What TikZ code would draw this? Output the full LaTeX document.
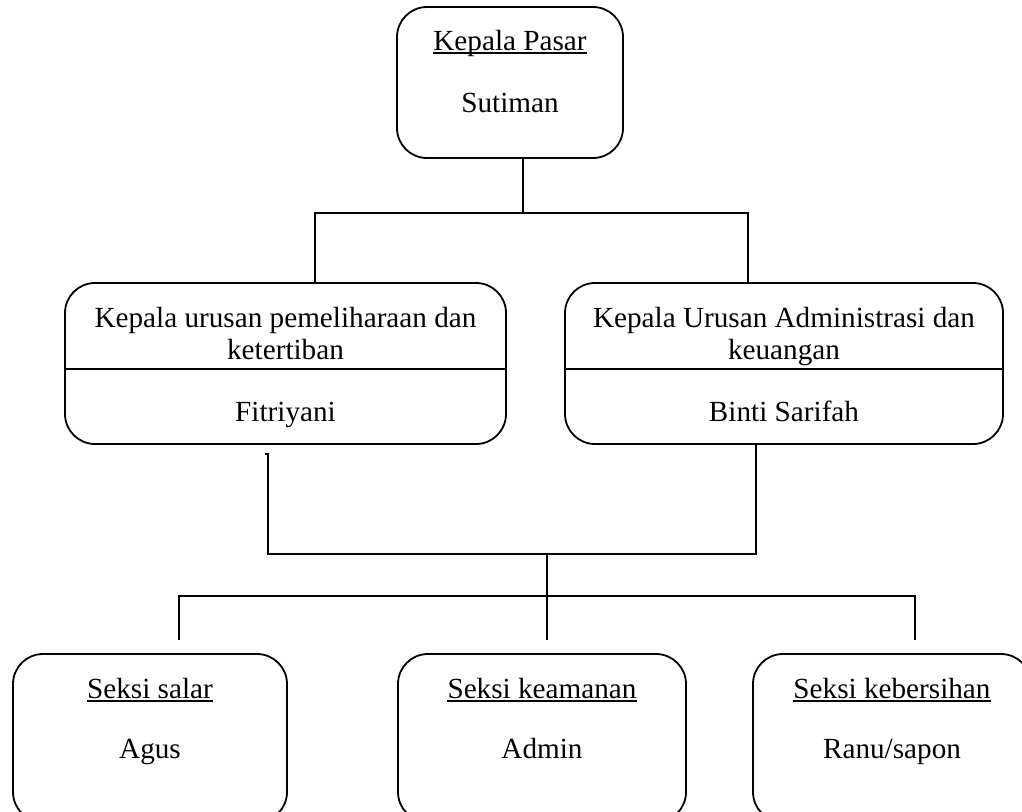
\documentclass[tikz,border=0pt]{standalone}
\usepackage{fontspec}
\setmainfont{Liberation Serif}
\begin{document}
\begin{tikzpicture}[x=1pt,y=-1pt,
  box/.style={draw,line width=1.8pt,rounded corners=30pt,inner sep=0pt},
  conn/.style={line width=1.8pt},
  txt/.style={inner sep=0pt,anchor=base,font=\fontsize{29.2}{32}\selectfont},
  uline/.style={line width=1.4pt}]
\useasboundingbox (0,0) rectangle (1022,811);
% boxes
\node[box,minimum width=226pt,minimum height=151pt] (top) at (510,82.5) {};
\node[box,minimum width=441pt,minimum height=161pt] (lm) at (285.5,363.5) {};
\node[box,minimum width=438pt,minimum height=161pt] (rm) at (784,363.5) {};
\node[box,minimum width=274pt,minimum height=168pt] (b1) at (150,738) {};
\node[box,minimum width=288pt,minimum height=168pt] (b2) at (542,738) {};
\node[box,minimum width=278pt,minimum height=168pt] (b3) at (892,738) {};
\draw[line width=1.4pt] (lm.west |- 0,369) -- (lm.east |- 0,369);
\draw[line width=1.4pt] (rm.west |- 0,369) -- (rm.east |- 0,369);
% texts
\node[txt] (t1) at (510,50) {Kepala Pasar};
\draw[uline] ([yshift=-3pt]t1.base west) -- ([yshift=-3pt]t1.base east);
\node[txt] (t2) at (510,112) {Sutiman};
\node[txt] (l1) at (285.5,327) {Kepala urusan pemeliharaan dan};
\node[txt] (l2) at (285.5,359) {ketertiban};
\node[txt] (l3) at (285.5,421) {Fitriyani};
\node[txt] (r1) at (784,327) {Kepala Urusan Administrasi dan};
\node[txt] (r2) at (784,359) {keuangan};
\node[txt] (r3) at (784,421) {Binti Sarifah};
\node[txt] (s1) at (150,698) {Seksi salar};
\draw[uline] ([yshift=-3pt]s1.base west) -- ([yshift=-3pt]s1.base east);
\node[txt] (n1) at (150,758) {Agus};
\node[txt] (s2) at (542,698) {Seksi keamanan};
\draw[uline] ([yshift=-3pt]s2.base west) -- ([yshift=-3pt]s2.base east);
\node[txt] (n2) at (542,758) {Admin};
\node[txt] (s3) at (892,698) {Seksi kebersihan};
\draw[uline] ([yshift=-3pt]s3.base west) -- ([yshift=-3pt]s3.base east);
\node[txt] (n3) at (892,758) {Ranu/sapon};
% junction coordinates
\coordinate (j1) at (523,213);
\coordinate (j1l) at (315,213);
\coordinate (j1r) at (748,213);
\coordinate (lstart) at (268,454);
\coordinate (ltick) at (265,454);
\coordinate (j2l) at (268,554);
\coordinate (j2) at (547,554);
\coordinate (j2r) at (756,554);
\coordinate (j3) at (547,596);
\coordinate (j3l) at (179,596);
\coordinate (j3r) at (915,596);
\coordinate (e1) at (179,640);
\coordinate (e2) at (547,640);
\coordinate (e3) at (915,640);
% connectors
\draw[conn] (top.south -| j1) -- (j1);
\draw[conn] (lm.north -| j1l) -- (j1l) -- (j1r) -- (rm.north -| j1r);
\draw[conn] (ltick) -- (lstart) -- (j2l) -- (j2r) -- (rm.south -| j2r);
\draw[conn] (j2) -- (j3);
\draw[conn] (e1) -- (j3l) -- (j3r) -- (e3);
\draw[conn] (j3) -- (e2);
\end{tikzpicture}
\end{document}
